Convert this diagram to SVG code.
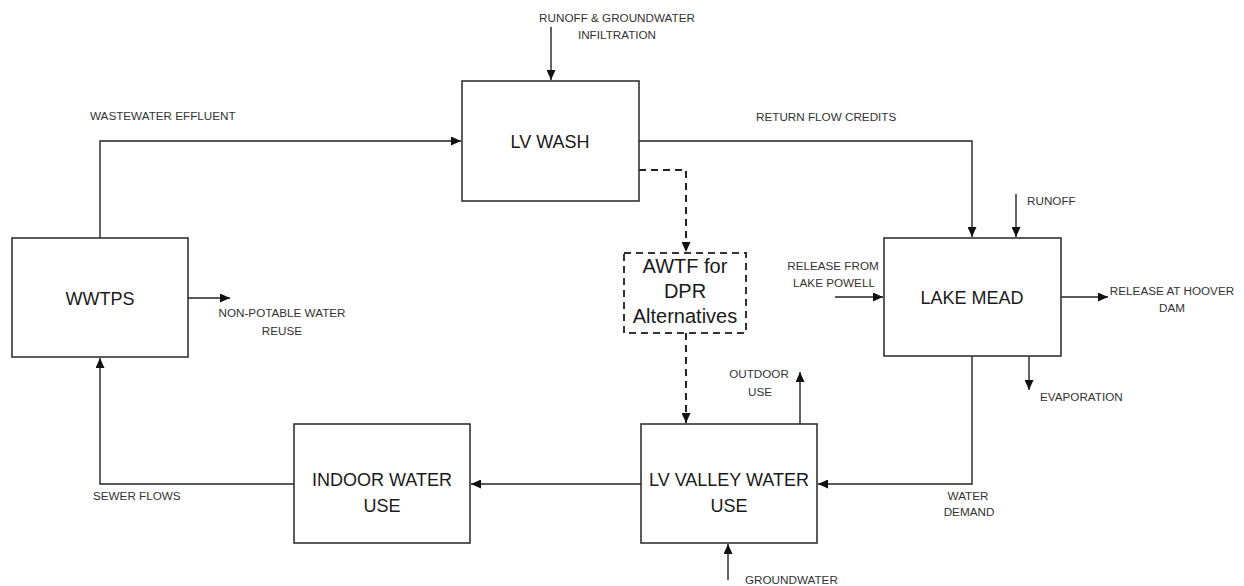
<svg xmlns="http://www.w3.org/2000/svg" width="1244" height="586" viewBox="0 0 1244 586">
<style>
.box{fill:#fff;stroke:#333;stroke-width:1.6}
.dbox{fill:#fff;stroke:#333;stroke-width:2;stroke-dasharray:7,5}
.lbl{font-family:"Liberation Sans",Arial,sans-serif;font-size:18px;fill:#1a1a1a;text-anchor:middle}
.sm{font-family:"Liberation Sans",Arial,sans-serif;font-size:11.7px;fill:#333}
.mid{text-anchor:middle}
.ln{fill:none;stroke:#222;stroke-width:1.4}
.dl{fill:none;stroke:#222;stroke-width:2;stroke-dasharray:7,5}
</style>
<defs>
<marker id="ah" markerUnits="userSpaceOnUse" markerWidth="11" markerHeight="9" refX="10" refY="4.5" orient="auto">
<path d="M0,0 L10,4.5 L0,9 z" fill="#111"/>
</marker>
</defs>
<rect width="1244" height="586" fill="#fff"/>
<g id="connectors">
<path class="ln" d="M100,238 V141 H461" marker-end="url(#ah)"/>
<path class="ln" d="M639,141 H972 V237" marker-end="url(#ah)"/>
<path class="ln" d="M551,27 V80" marker-end="url(#ah)"/>
<path class="dl" d="M639,170 H686 V252" marker-end="url(#ah)"/>
<path class="dl" d="M686,333 V423" marker-end="url(#ah)"/>
<path class="ln" d="M1016,194 V237" marker-end="url(#ah)"/>
<path class="ln" d="M835,297 H883" marker-end="url(#ah)"/>
<path class="ln" d="M1061,297 H1108" marker-end="url(#ah)"/>
<path class="ln" d="M1029,356 V390" marker-end="url(#ah)"/>
<path class="ln" d="M972,356 V484 H818" marker-end="url(#ah)"/>
<path class="ln" d="M800,424 V372" marker-end="url(#ah)"/>
<path class="ln" d="M728,580 V544" marker-end="url(#ah)"/>
<path class="ln" d="M641,484 H471" marker-end="url(#ah)"/>
<path class="ln" d="M294,484 H100 V358" marker-end="url(#ah)"/>
<path class="ln" d="M188,298 H230" marker-end="url(#ah)"/>
</g>
<g id="labels">
<text class="sm mid" x="617" y="22">RUNOFF &amp; GROUNDWATER</text>
<text class="sm mid" x="617" y="39">INFILTRATION</text>
<text class="sm" x="90" y="120">WASTEWATER EFFLUENT</text>
<text class="sm" x="756" y="121">RETURN FLOW CREDITS</text>
<text class="sm" x="1027" y="205">RUNOFF</text>
<text class="sm mid" x="833" y="270">RELEASE FROM</text>
<text class="sm mid" x="834" y="287">LAKE POWELL</text>
<text class="sm mid" x="1172" y="295">RELEASE AT HOOVER</text>
<text class="sm mid" x="1172" y="312">DAM</text>
<text class="sm" x="1040" y="401">EVAPORATION</text>
<text class="sm mid" x="282" y="317">NON-POTABLE WATER</text>
<text class="sm mid" x="282" y="335">REUSE</text>
<text class="sm mid" x="759" y="378">OUTDOOR</text>
<text class="sm mid" x="760" y="396">USE</text>
<text class="sm mid" x="968" y="500">WATER</text>
<text class="sm mid" x="969" y="516">DEMAND</text>
<text class="sm" x="745" y="584">GROUNDWATER</text>
<text class="sm" x="93" y="500">SEWER FLOWS</text>
</g>
<g id="lv-wash">
<rect class="box" x="462" y="81" width="177" height="120"/>
<text class="lbl" x="550" y="148">LV WASH</text>
</g>
<g id="wwtps">
<rect class="box" x="12" y="238" width="176" height="119"/>
<text class="lbl" x="100" y="305">WWTPS</text>
</g>
<g id="awtf">
<rect class="dbox" x="624" y="253" width="122" height="80"/>
<text class="lbl" style="font-size:20px" x="685" y="273">AWTF for</text>
<text class="lbl" style="font-size:20px" x="685" y="298">DPR</text>
<text class="lbl" style="font-size:20px" x="685" y="323">Alternatives</text>
</g>
<g id="lake-mead">
<rect class="box" x="884" y="238" width="177" height="118"/>
<text class="lbl" x="972" y="304">LAKE MEAD</text>
</g>
<g id="indoor">
<rect class="box" x="294" y="424" width="176" height="119"/>
<text class="lbl" x="382" y="486">INDOOR WATER</text>
<text class="lbl" x="382" y="512">USE</text>
</g>
<g id="lv-valley">
<rect class="box" x="641" y="424" width="176" height="119"/>
<text class="lbl" x="729" y="486">LV VALLEY WATER</text>
<text class="lbl" x="729" y="512">USE</text>
</g>
</svg>
